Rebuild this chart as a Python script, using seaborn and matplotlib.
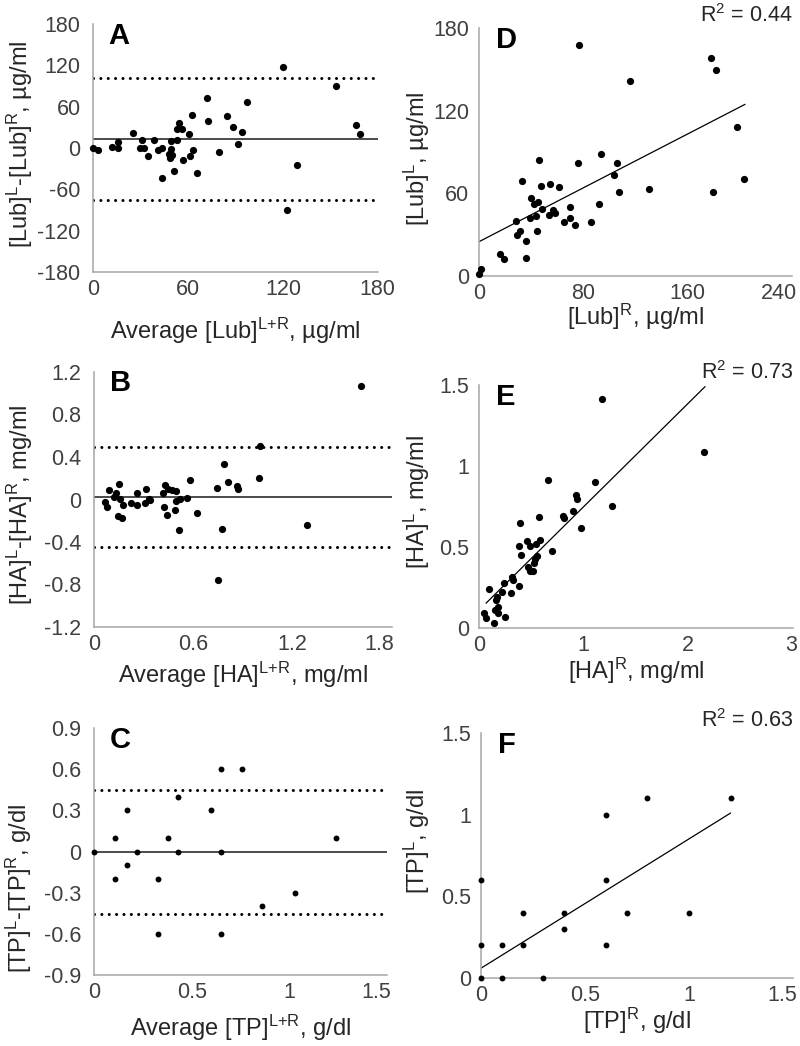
import numpy as np
import matplotlib
matplotlib.use("Agg")
import matplotlib.pyplot as plt
from matplotlib.transforms import ScaledTranslation
import seaborn as sns

# ---- data ----
# A: Bland-Altman, lubricin
a_avg = [120.2, 153.3, 71.8, 97.1, 62.7, 72.5, 84.4, 88.6, 94.3, 91.4, 79.8, 54.5, 52.8, 56.2,
         60.6, 52.8, 49.0, 63.4, 61.3, 57.1, 49.0, 48.2, 49.7, 48.6, 51.4, 65.5, 43.6, 43.4,
         40.9, 38.8, 34.5, 31.2, 29.7, 32.4, 25.1, 16.0, 16.0, 12.2, 0.2, 3.4, 122.8, 128.9,
         166.1, 168.6]
a_diff = [117, 89.6, 72.2, 67.4, 48.1, 39.9, 46.1, 30.1, 23.9, 6.1, -5.1, 37, 27.3, 28.3,
          20.5, 11.8, 9.9, -2.7, -12.3, -16.7, -1.2, -8.4, -9.8, -14.7, -34, -36, -44.2, 0.3,
          -2.2, 12.3, -11.8, 10.9, -0.2, -0.2, 22, 8.4, 0.3, 1.0, 0.3, -2.2, -89.6, -24.9,
          33.6, 20.5]
a_bias, a_lo, a_hi = 12.5, -76, 102

# B: Bland-Altman, HA
b_avg = [1.612, 1.004, 0.787, 0.997, 0.809, 0.740, 0.861, 0.869, 0.579, 1.285, 0.775, 0.512,
         0.620, 0.749, 0.559, 0.495, 0.495, 0.491, 0.439, 0.425, 0.429, 0.418, 0.449, 0.469,
         0.519, 0.334, 0.314, 0.308, 0.262, 0.262, 0.223, 0.177, 0.168, 0.147, 0.153, 0.133,
         0.121, 0.157, 0.092, 0.067, 0.081, 0.338]
b_diff = [1.068, 0.503, 0.334, 0.200, 0.168, 0.111, 0.126, 0.095, 0.188, -0.243, -0.278, -0.284,
          -0.127, -0.758, 0.017, 0.080, -0.011, -0.099, -0.149, -0.074, 0.134, 0.058, 0.095, 0.089,
          0.001, 0.001, 0.095, -0.036, 0.058, -0.055, -0.036, -0.055, -0.177, -0.155, 0.146, 0.058,
          0.026, 0.001, 0.086, -0.024, -0.074, -0.005]
b_bias, b_lo, b_hi = 0.025, -0.445, 0.49

# C: Bland-Altman, total protein
c_avg = [0, 0.11, 0.11, 0.17, 0.17, 0.22, 0.33, 0.33, 0.38, 0.43, 0.43, 0.60, 0.65, 0.65,
         0.65, 0.76, 0.86, 1.03, 1.24]
c_diff = [0, 0.1, -0.2, 0.3, -0.1, 0, -0.2, -0.6, 0.1, 0.4, 0, 0.3, 0.6, 0, -0.6, 0.6, -0.4,
          -0.3, 0.1]
c_bias, c_lo, c_hi = 0.0, -0.455, 0.45

# D: lubricin left vs right
d_r = [76.7, 177.9, 181.7, 116.0, 197.9, 203.2, 179.2, 130.6, 107.6, 103.8, 105.8, 93.8, 75.7,
       92.3, 85.9, 70.0, 70.0, 73.4, 65.4, 61.1, 54.2, 47.3, 45.8, 33.0, 39.6, 42.2, 45.0, 48.3,
       56.7, 58.3, 53.4, 43.7, 39.1, 44.2, 28.1, 31.4, 29.4, 35.8, 35.8, 16.1, 19.4, 1.5, 0.2]
d_l = [167.4, 158.4, 149.5, 141.5, 108.1, 70.2, 61.2, 62.9, 61.2, 73.3, 82.2, 88.8, 82.2,
       52.2, 39.4, 49.8, 41.9, 37.0, 39.4, 64.4, 66.8, 65.3, 84.0, 69.2, 56.4, 52.6, 54.0, 48.9,
       47.9, 45.7, 44.3, 43.3, 41.9, 32.9, 39.9, 32.7, 29.8, 25.4, 13.3, 15.7, 12.6, 4.8, 1.2]
d_fit_x, d_fit_y = [0, 204], [24.9, 124.6]

# E: HA left vs right
e_r = [1.172, 2.152, 0.659, 1.105, 0.923, 0.932, 1.267, 0.901, 0.806, 0.812, 0.573, 0.395,
       0.971, 0.582, 0.541, 0.487, 0.455, 0.385, 0.694, 0.401, 0.550, 0.535, 0.525, 0.471,
       0.518, 0.492, 0.312, 0.328, 0.385, 0.242, 0.305, 0.217, 0.093, 0.168, 0.163, 0.184,
       0.153, 0.178, 0.249, 0.051, 0.067, 0.144]
e_l = [1.411, 1.085, 0.913, 0.899, 0.820, 0.795, 0.754, 0.725, 0.692, 0.678, 0.684, 0.649,
       0.616, 0.546, 0.519, 0.508, 0.535, 0.504, 0.475, 0.448, 0.446, 0.423, 0.399, 0.374,
       0.350, 0.350, 0.312, 0.296, 0.260, 0.276, 0.215, 0.221, 0.242, 0.192, 0.174, 0.130,
       0.109, 0.093, 0.068, 0.095, 0.064, 0.033]
e_fit_x, e_fit_y = [0.067, 2.16], [0.153, 1.49]

# F: total protein left vs right
f_r = [0, 0, 0, 0.1, 0.1, 0.2, 0.2, 0.3, 0.4, 0.4, 0.6, 0.6, 0.6, 0.7, 0.8, 1.0, 1.2]
f_l = [0.6, 0.2, 0, 0.2, 0, 0.4, 0.2, 0, 0.4, 0.3, 1.0, 0.6, 0.2, 0.4, 1.1, 0.4, 1.1]
f_fit_x, f_fit_y = [0, 1.2], [0.06, 1.01]

r2_d, r2_e, r2_f = "0.44", "0.73", "0.63"

# ---- style ----
sns.set_style("white")
plt.rcParams["font.family"] = ["Liberation Sans", "DejaVu Sans"]
plt.rcParams["mathtext.fontset"] = "custom"
plt.rcParams["mathtext.rm"] = "Liberation Sans"
plt.rcParams["mathtext.default"] = "regular"
plt.rcParams["axes.unicode_minus"] = False

W, H = 800, 1046
fig = plt.figure(figsize=(W / 100, H / 100), dpi=100)

AX_GRAY = "#a6a6a6"
TXT = "#404040"
LAB = "#262626"


def make_ax(x0, y0, x1, y1, ypad):
    ax = fig.add_axes([x0 / W, 1 - y1 / H, (x1 - x0) / W, (y1 - y0) / H])
    ax.patch.set_alpha(0)
    sns.despine(ax=ax)
    for s in ("left", "bottom"):
        ax.spines[s].set_color(AX_GRAY)
        ax.spines[s].set_linewidth(1.1)
    ax.tick_params(length=0, labelsize=15.5, labelcolor=TXT)
    ax.tick_params(axis="x", pad=5)
    ax.tick_params(axis="y", pad=ypad)
    return ax


def fmt(v):
    return "0" if v == 0 else "{:g}".format(round(v, 2))


def finish(ax, box, xlim, xticks, ylim, yticks, xlabel, ylabel, letter,
           xlab_top, ylab_right, ylab_center, edge):
    x0, y0, x1, y1 = box
    ax.set_xlim(*xlim)
    ax.set_ylim(*ylim)
    ax.set_xticks(xticks)
    ax.set_xticklabels([fmt(v) for v in xticks])
    ax.set_yticks(yticks)
    ax.set_yticklabels([fmt(v) for v in yticks])
    # last x label pushed inside the chart area, like the spreadsheet does
    last = ax.xaxis.get_major_ticks()[-1].label1
    last.set_horizontalalignment("right")
    last.set_transform(last.get_transform() + ScaledTranslation((edge - x1) / 100, 0, fig.dpi_scale_trans))
    ax.set_xlabel(xlabel, fontsize=17, color=LAB)
    ax.set_ylabel(ylabel, fontsize=17, color=LAB)
    ax.xaxis.set_label_coords(0.5, (y1 - xlab_top) / (y1 - y0))
    ax.yaxis.set_label_coords((ylab_right - x0) / (x1 - x0), (y1 - ylab_center) / (y1 - y0))
    ax.text(0.055, 1.01, letter, transform=ax.transAxes, fontsize=21, fontweight="bold",
            ha="left", va="top", color="black")


def bland_altman(box, x, y, bias, lo, hi, size):
    ax = make_ax(*box, ypad=9)
    ax.axhline(bias, color="#1a1a1a", lw=1.1, zorder=1)
    for v in (lo, hi):
        ax.axhline(v, color="black", lw=2.2, linestyle=(0, (0.01, 2.4)),
                   dash_capstyle="round", zorder=1)
    sns.scatterplot(x=x, y=y, ax=ax, color="black", s=size, linewidth=0, clip_on=False, zorder=3)
    return ax


def lr_plot(box, x, y, fx, fy, size, r2):
    ax = make_ax(*box, ypad=7)
    sns.lineplot(x=fx, y=fy, ax=ax, color="black", lw=0.9, zorder=2)
    sns.scatterplot(x=x, y=y, ax=ax, color="black", s=size, linewidth=0, clip_on=False, zorder=3)
    ax.text(1.0, 1.005, "R$^2$ = " + r2, transform=ax.transAxes, ha="right", va="bottom",
            fontsize=15.5, color=LAB)
    return ax


# ---- A ----
box = (93, 24, 378, 272)
ax = bland_altman(box, a_avg, a_diff, a_bias, a_lo, a_hi, 27)
finish(ax, box, (0, 180), [0, 60, 120, 180], (-180, 180), [-180, -120, -60, 0, 60, 120, 180],
       "Average [Lub]$^{L{+}R}$, µg/ml", "[Lub]$^{L}$-[Lub]$^{R}$, µg/ml", "A", 316, 35, 144, 395)

# ---- B ----
box = (94, 372, 392, 627)
ax = bland_altman(box, b_avg, b_diff, b_bias, b_lo, b_hi, 27)
finish(ax, box, (0, 1.8), [0, 0.6, 1.2, 1.8], (-1.2, 1.2), [-1.2, -0.8, -0.4, 0, 0.4, 0.8, 1.2],
       "Average [HA]$^{L{+}R}$, mg/ml", "[HA]$^{L}$-[HA]$^{R}$, mg/ml", "B", 660, 35, 505, 394)

# ---- C ----
box = (94, 728, 387, 975)
ax = bland_altman(box, c_avg, c_diff, c_bias, c_lo, c_hi, 18)
finish(ax, box, (0, 1.5), [0, 0.5, 1, 1.5], (-0.9, 0.9), [-0.9, -0.6, -0.3, 0, 0.3, 0.6, 0.9],
       "Average [TP]$^{L{+}R}$, g/dl", "[TP]$^{L}$-[TP]$^{R}$, g/dl", "C", 1013, 34, 888, 391)

# ---- D ----
box = (479, 28, 792, 276)
ax = lr_plot(box, d_r, d_l, d_fit_x, d_fit_y, 27, r2_d)
finish(ax, box, (0, 240), [0, 80, 160, 240], (0, 180), [0, 60, 120, 180],
       "[Lub]$^{R}$, µg/ml", "[Lub]$^{L}$, µg/ml", "D", 302, 432, 159, 797)

# ---- E ----
box = (479, 385, 793, 628)
ax = lr_plot(box, e_r, e_l, e_fit_x, e_fit_y, 27, r2_e)
finish(ax, box, (0, 3), [0, 1, 2, 3], (0, 1.5), [0, 0.5, 1, 1.5],
       "[HA]$^{R}$, mg/ml", "[HA]$^{L}$, mg/ml", "E", 656, 432, 502, 797)

# ---- F ----
box = (481, 733, 793, 978)
ax = lr_plot(box, f_r, f_l, f_fit_x, f_fit_y, 18, r2_f)
finish(ax, box, (0, 1.5), [0, 0.5, 1, 1.5], (0, 1.5), [0, 0.5, 1, 1.5],
       "[TP]$^{R}$, g/dl", "[TP]$^{L}$, g/dl", "F", 1006, 432, 841, 797)

fig.savefig("out.png", dpi=100)
